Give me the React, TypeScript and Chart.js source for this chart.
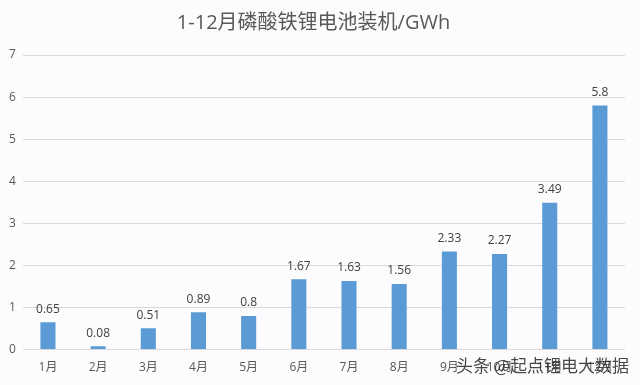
import React, { useEffect, useRef } from "react";
import { Chart, registerables } from "chart.js";

Chart.register(...registerables);

const categories = ["1月", "2月", "3月", "4月", "5月", "6月", "7月", "8月", "9月", "10月", "11月", "12月"];
const values = [0.65, 0.08, 0.51, 0.89, 0.8, 1.67, 1.63, 1.56, 2.33, 2.27, 3.49, 5.8];
const yTicks = [0, 1, 2, 3, 4, 5, 6, 7];
const titleText = "1-12月磷酸铁锂电池装机/GWh";
const watermarkText = "头条 @起点锂电大数据";

const FONT = "'Open Sans', 'Noto Sans CJK SC', sans-serif";

const labelPlugin = {
  id: "valueLabels",
  afterDatasetsDraw(chart: any) {
    const ctx = chart.ctx;
    const meta = chart.getDatasetMeta(0);
    ctx.save();
    ctx.font = `12px ${FONT}`;
    ctx.fillStyle = "#404040";
    ctx.textAlign = "center";
    ctx.textBaseline = "bottom";
    meta.data.forEach((bar: any, i: number) => {
      ctx.fillText(String(values[i]), bar.x, bar.y - 7);
    });
    ctx.restore();
  },
  afterDraw(chart: any) {
    const ctx = chart.ctx;
    ctx.save();
    ctx.font = `17px 'Noto Sans CJK SC', sans-serif`;
    ctx.fillStyle = "rgba(40,40,40,0.85)";
    ctx.textAlign = "right";
    ctx.textBaseline = "middle";
    ctx.fillText(watermarkText, 629, 366);
    ctx.restore();
  },
};

const bgPlugin = {
  id: "bg",
  beforeDraw(chart: any) {
    const ctx = chart.ctx;
    ctx.save();
    ctx.fillStyle = "#fcfbfe";
    ctx.fillRect(0, 0, chart.width, chart.height);
    ctx.restore();
  },
};

export default function App() {
  const ref = useRef<HTMLCanvasElement>(null);
  useEffect(() => {
    document.body.style.margin = "0";
    const chart = new Chart(ref.current!, {
      type: "bar",
      data: {
        labels: categories,
        datasets: [
          {
            data: values,
            backgroundColor: "#5b9bd5",
            barPercentage: 0.6,
            categoryPercentage: 0.5,
          },
        ],
      },
      options: {
        animation: false,
        responsive: false,
        maintainAspectRatio: false,
        layout: { padding: { left: 2, right: 15, top: 8, bottom: 7 } },
        plugins: {
          legend: { display: false },
          tooltip: { enabled: false },
          title: {
            display: true,
            text: titleText,
            color: "#595959",
            font: { family: FONT, size: 20, weight: "normal" },
            padding: { top: 3, bottom: 20 },
          },
        },
        scales: {
          x: {
            grid: { display: false },
            border: { display: false },
            ticks: { color: "#595959", font: { family: FONT, size: 12 }, padding: 3 },
          },
          y: {
            min: 0,
            max: 7,
            afterBuildTicks: (axis: any) => {
              axis.ticks = yTicks.map((v) => ({ value: v }));
            },
            grid: { color: "#d9d9d9", lineWidth: 1, drawTicks: false },
            border: { display: false },
            ticks: { color: "#595959", font: { family: FONT, size: 12 }, padding: 7 },
          },
        },
      },
      plugins: [bgPlugin, labelPlugin],
    });
    return () => chart.destroy();
  }, []);
  return (
    <div style={{ width: 640, height: 385 }}>
      <canvas ref={ref} width={640} height={385} style={{ display: "block" }} />
    </div>
  );
}
